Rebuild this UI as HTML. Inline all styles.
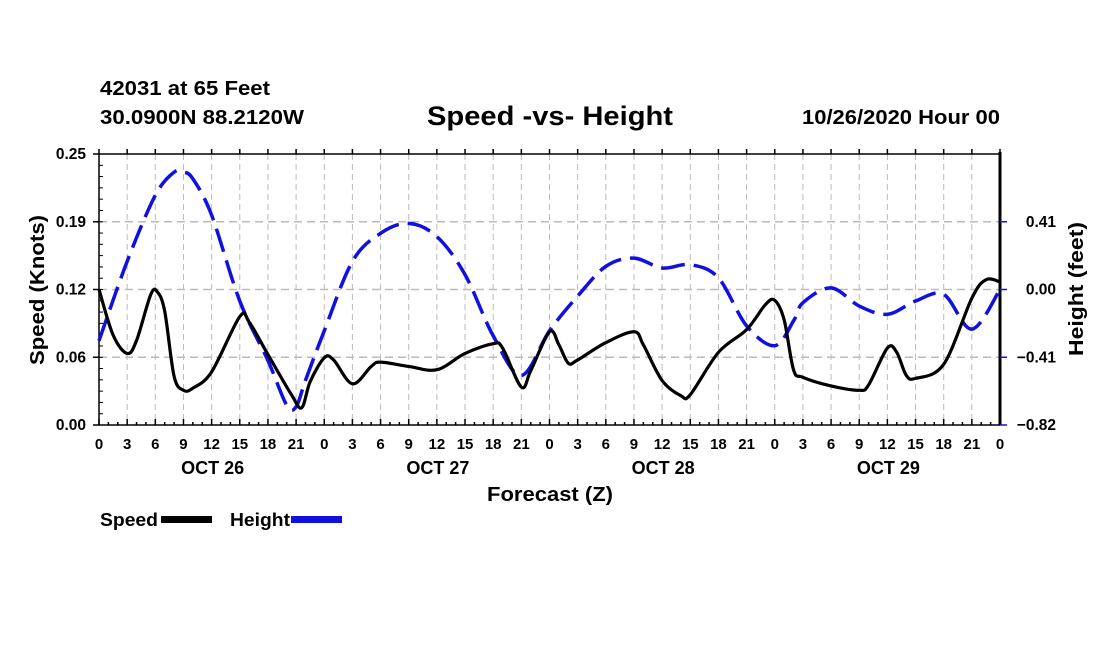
<!DOCTYPE html>
<html><head><meta charset="utf-8"><style>
body{margin:0;background:#fff;width:1100px;height:650px;overflow:hidden}
svg text{font-family:"Liberation Sans",Arial,sans-serif;font-weight:bold;fill:#000}
</style></head><body>
<svg id="chart" width="1100" height="650" xmlns="http://www.w3.org/2000/svg">
<text x="100" y="95" font-size="20" textLength="170" lengthAdjust="spacingAndGlyphs">42031 at 65 Feet</text>
<text x="100" y="124" font-size="20" textLength="204" lengthAdjust="spacingAndGlyphs">30.0900N 88.2120W</text>
<text x="427" y="125" font-size="27" textLength="246" lengthAdjust="spacingAndGlyphs">Speed -vs- Height</text>
<text x="802" y="124" font-size="20" textLength="198" lengthAdjust="spacingAndGlyphs">10/26/2020 Hour 00</text>
<g id="grid"></g><g id="axes"></g><g id="series"></g>
<text transform="translate(44,290) rotate(-90)" font-size="20" text-anchor="middle" textLength="150" lengthAdjust="spacingAndGlyphs">Speed (Knots)</text>
<text transform="translate(1083,289) rotate(-90)" font-size="20" text-anchor="middle" textLength="134" lengthAdjust="spacingAndGlyphs">Height (feet)</text>
<text x="487" y="501" font-size="20" textLength="126" lengthAdjust="spacingAndGlyphs">Forecast (Z)</text>
<g>
<text x="100" y="526" font-size="18" textLength="58" lengthAdjust="spacingAndGlyphs">Speed</text>
<rect x="161" y="516" width="51" height="7" fill="#000"/>
<text x="230" y="526" font-size="18" textLength="60" lengthAdjust="spacingAndGlyphs">Height</text>
<rect x="291" y="516" width="51" height="7" fill="#1010e0"/>
</g>
</svg>
<script>
const speedHours=[0,1.5,3,4,5.5,6.2,7,8,9,10,12,15,16,18,20.5,21.6,22.5,24,25,27,29,30,33,36,39,42,43,45,46,48,49,50,51,54,57,58,60,62,63,66,69,71,72,73,74,75,78,81,82,84,85,86,87,90,93,94.5,96];
const speedVals=[0.125,0.083,0.066,0.078,0.12,0.123,0.105,0.045,0.032,0.034,0.049,0.10,0.095,0.065,0.028,0.016,0.04,0.062,0.06,0.038,0.054,0.058,0.054,0.051,0.066,0.075,0.071,0.035,0.050,0.086,0.074,0.057,0.060,0.076,0.086,0.074,0.041,0.027,0.028,0.067,0.088,0.111,0.115,0.097,0.051,0.044,0.036,0.032,0.037,0.071,0.067,0.046,0.043,0.056,0.117,0.134,0.132];
const heightHours=[0,3,6,8,9,10,12,15,18,20,21,22,24,27,30,33,36,39,42,45,48,51,54,57,60,63,66,69,72,74,75,78,81,84,87,90,93,96];
const heightVals=[-0.31,0.17,0.57,0.71,0.71,0.67,0.45,-0.07,-0.43,-0.70,-0.71,-0.55,-0.25,0.17,0.34,0.40,0.32,0.09,-0.28,-0.52,-0.25,-0.04,0.14,0.19,0.13,0.15,0.07,-0.22,-0.34,-0.19,-0.08,0.01,-0.10,-0.15,-0.07,-0.03,-0.24,0];
const xTickLabels=["0","3","6","9","12","15","18","21"];
const dayLabels=["OCT 26","OCT 27","OCT 28","OCT 29"];
const leftTicks=[0,0.0625,0.125,0.1875,0.25];
const leftTickLabels=["0.00","0.06","0.12","0.19","0.25"];
const rightTicks=[-0.82,-0.41,0,0.41];
const rightTickLabels=["\u22120.82","\u22120.41","0.00","0.41"];

const X0=99,X1=1000,Y0=425,Y1=154;
const xs=h=>X0+(h/96)*(X1-X0);
const yl=v=>Y0-(v/0.25)*(Y0-Y1);
const yr=v=>Y0-((v+0.82)/1.64)*(Y0-Y1);
const NS="http://www.w3.org/2000/svg";
function mk(tag,attrs,parent){const e=document.createElementNS(NS,tag);for(const k in attrs)e.setAttribute(k,attrs[k]);parent.appendChild(e);return e;}
const grid=document.getElementById('grid'),axes=document.getElementById('axes'),series=document.getElementById('series');

for(let h=3;h<96;h+=3){const g=mk('line',{x1:xs(h),x2:xs(h),y1:Y1,y2:Y0,stroke:'#bbb','stroke-width':1,'stroke-dasharray':'6,4'},grid);

}
leftTicks.slice(1,4).forEach(v=>{const g=mk('line',{x1:X0,x2:X1,y1:yl(v),y2:yl(v),stroke:'#bbb','stroke-width':1.5,'stroke-dasharray':'8,5'},grid);

});

mk('line',{x1:X0,x2:X1,y1:Y1,y2:Y1,stroke:'#000','stroke-width':1.5},axes);
mk('line',{x1:X0,x2:X1,y1:Y0,y2:Y0,stroke:'#000','stroke-width':1.5},axes);
mk('line',{x1:X0,x2:X0,y1:Y1,y2:Y0,stroke:'#000','stroke-width':1.5},axes);
mk('line',{x1:X1,x2:X1,y1:Y1-2,y2:Y0,stroke:'#000','stroke-width':3},axes);
for(let h=0;h<=96;h++){const big=h%3==0;
mk('line',{x1:xs(h),x2:xs(h),y1:Y0,y2:Y0-(big?6:3),stroke:'#000','stroke-width':1.5},axes);
mk('line',{x1:xs(h),x2:xs(h),y1:Y1,y2:Y1-(big?5:0),stroke:'#000','stroke-width':1.5},axes);
if(big){const t=mk('text',{x:xs(h),y:449,'font-size':15,'text-anchor':'middle'},axes);t.textContent=xTickLabels[(h/3)%8];

}}
dayLabels.forEach((d,i)=>{const t=mk('text',{x:xs(12+24*i)+1,y:474,'font-size':18,'text-anchor':'middle'},axes);t.textContent=d;

});
for(let v=0;v<=0.25001;v+=0.25/24){mk('line',{x1:X0,x2:X0+4,y1:yl(v),y2:yl(v),stroke:'#000','stroke-width':1},axes);}
leftTicks.forEach((v,i)=>{mk('line',{x1:X0-6,x2:X0,y1:yl(v),y2:yl(v),stroke:'#000','stroke-width':1.5},axes);
const t=mk('text',{x:86,y:yl(v)+5,'font-size':15.5,'text-anchor':'end'},axes);t.textContent=leftTickLabels[i];

});
rightTicks.forEach((v,i)=>{mk('line',{x1:X1,x2:X1+7,y1:yr(v),y2:yr(v),stroke:'#1010e0','stroke-width':1.5},axes);
const t=mk('text',{x:1056,y:yr(v)+5,'font-size':15.5,'text-anchor':'end'},axes);t.textContent=rightTickLabels[i];

});

function path(px,py){let d=`M${px[0]},${py[0]}`;
for(let i=0;i<px.length-1;i++){const p0=i?i-1:i,p3=i+2<px.length?i+2:i+1;
const c1x=px[i]+(px[i+1]-px[p0])/6,c1y=py[i]+(py[i+1]-py[p0])/6;
const c2x=px[i+1]-(px[p3]-px[i])/6,c2y=py[i+1]-(py[p3]-py[i])/6;
d+=` C${c1x},${c1y} ${c2x},${c2y} ${px[i+1]},${py[i+1]}`;}return d;}
const hp=mk('path',{d:path(heightHours.map(xs),heightVals.map(yr)),fill:'none',stroke:'#1010e0','stroke-width':3.5,'stroke-dasharray':'24,9'},series);


const sp=mk('path',{d:path(speedHours.map(xs),speedVals.map(yl)),fill:'none',stroke:'#000','stroke-width':3.2},series);


</script>
</body></html>
